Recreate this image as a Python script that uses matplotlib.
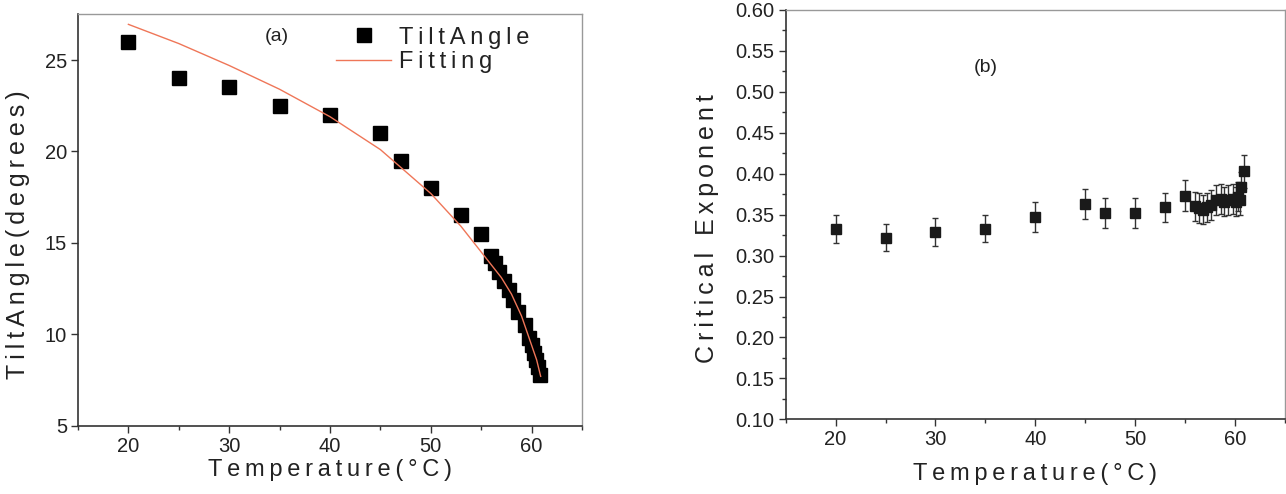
import matplotlib
matplotlib.use("Agg")
import matplotlib.pyplot as plt
from matplotlib.ticker import MultipleLocator, FormatStrFormatter

plt.rcParams['font.family'] = ['Liberation Sans', 'DejaVu Sans']

# === Data: (a) tilt angle vs temperature ===
temp_a = [20, 25, 30, 35, 40, 45, 47, 50, 53, 55, 56.0, 56.4, 56.8, 57.3, 57.8,
          58.2, 58.7, 59.3, 59.7, 60.0, 60.2, 60.4, 60.6, 60.8]
tilt = [26.0, 24.0, 23.5, 22.5, 22.0, 21.0, 19.5, 18.0, 16.5, 15.5, 14.3, 13.9,
        13.4, 12.9, 12.4, 11.9, 11.2, 10.5, 9.8, 9.4, 9.0, 8.6, 8.2, 7.8]

# fitted curve
fit_temp = [20, 25, 30, 35, 40, 45, 50, 53, 55, 57, 58, 59, 60, 60.5, 60.9]
fit_tilt = [26.95, 25.9, 24.7, 23.4, 21.9, 20.1, 17.7, 15.9, 14.5, 13.1, 12.2,
            11.0, 9.4, 8.6, 7.7]

# === Data: (b) critical exponent vs temperature ===
temp_b = [20, 25, 30, 35, 40, 45, 47, 50, 53, 55, 56.0, 56.4, 56.8, 57.2, 57.6,
          58.1, 58.6, 58.9, 59.3, 59.8, 60.1, 60.3, 60.5, 60.6, 60.9]
expo = [0.332, 0.322, 0.329, 0.333, 0.347, 0.363, 0.352, 0.352, 0.359, 0.373,
        0.360, 0.358, 0.356, 0.359, 0.362, 0.368, 0.369, 0.366, 0.368, 0.369,
        0.366, 0.372, 0.368, 0.384, 0.403]
expo_err = [0.017, 0.017, 0.017, 0.017, 0.018, 0.018, 0.018, 0.018, 0.018, 0.019,
            0.018, 0.018, 0.018, 0.018, 0.018, 0.018, 0.018, 0.018, 0.018, 0.018,
            0.018, 0.018, 0.018, 0.018, 0.020]


def spaced(s):
    # wide letter spacing like the original figure
    return '\u2009'.join(s)


def style_axes(ax):
    for side in ['left', 'bottom']:
        ax.spines[side].set_color('#333333')
        ax.spines[side].set_linewidth(1.2)
    for side in ['top', 'right']:
        ax.spines[side].set_color('#999999')
        ax.spines[side].set_linewidth(1.0)
    ax.tick_params(which='major', direction='out', length=5, width=1.0,
                   labelsize=14.5, colors='#333333', pad=3)
    ax.tick_params(which='minor', direction='out', length=3, width=1.0,
                   colors='#333333')
    ax.tick_params(labelcolor='#222222')


fig = plt.figure(figsize=(12.86, 4.94), dpi=100)

# === Panel (a) ===
ax1 = fig.add_axes([78 / 1286, 68.3 / 494, 504 / 1286, 411.4 / 494])
ax1.plot(fit_temp, fit_tilt, color='#ef7658', lw=1.0, label=spaced('Fitting'), zorder=3)
ax1.plot(temp_a, tilt, 's', color='black', ms=9.5, label=spaced('TiltAngle'), zorder=2)
ax1.set_xlim(15, 65)
ax1.set_ylim(5, 27.5)
ax1.xaxis.set_major_locator(MultipleLocator(10))
ax1.xaxis.set_minor_locator(MultipleLocator(5))
ax1.yaxis.set_major_locator(MultipleLocator(5))
style_axes(ax1)
ax1.set_xlabel(spaced('Temperature(°C)'), fontsize=17, color='#222222', labelpad=2)
ax1.set_ylabel(spaced('TiltAngle(degrees)'), fontsize=18, color='#222222')
ax1.yaxis.set_label_coords(-0.095, 0.465)
ax1.text(34.7, 26.3, '(a)', fontsize=14, ha='center', va='center', color='#222222')
handles, labels = ax1.get_legend_handles_labels()
ax1.legend(handles[::-1], labels[::-1], loc='upper left', bbox_to_anchor=(0.512, 0.97),
           frameon=False, fontsize=17, handlelength=2.33, handletextpad=0.34,
           labelspacing=0.1, borderpad=0, borderaxespad=0, labelcolor='#222222')

# === Panel (b) ===
ax2 = fig.add_axes([785.7 / 1286, 74.7 / 494, 499 / 1286, 409.3 / 494])
ax2.errorbar(temp_b, expo, yerr=expo_err, fmt='s', color='#1a1a1a', ms=6.5,
             ecolor='#333333', elinewidth=1.0, capsize=2.5, capthick=1.0)
ax2.set_xlim(15, 65)
ax2.set_ylim(0.10, 0.60)
ax2.xaxis.set_major_locator(MultipleLocator(10))
ax2.xaxis.set_minor_locator(MultipleLocator(5))
ax2.yaxis.set_major_locator(MultipleLocator(0.05))
ax2.yaxis.set_minor_locator(MultipleLocator(0.025))
ax2.yaxis.set_major_formatter(FormatStrFormatter('%.2f'))
style_axes(ax2)
ax2.set_xlabel(spaced('Temperature(°C)'), fontsize=17, color='#222222', labelpad=10)
ax2.set_ylabel(spaced('Critical Exponent'), fontsize=18, color='#222222')
ax2.yaxis.set_label_coords(-0.134, 0.465)
ax2.text(35, 0.53, '(b)', fontsize=14, ha='center', va='center', color='#222222')

fig.savefig('out.png', dpi=100)
